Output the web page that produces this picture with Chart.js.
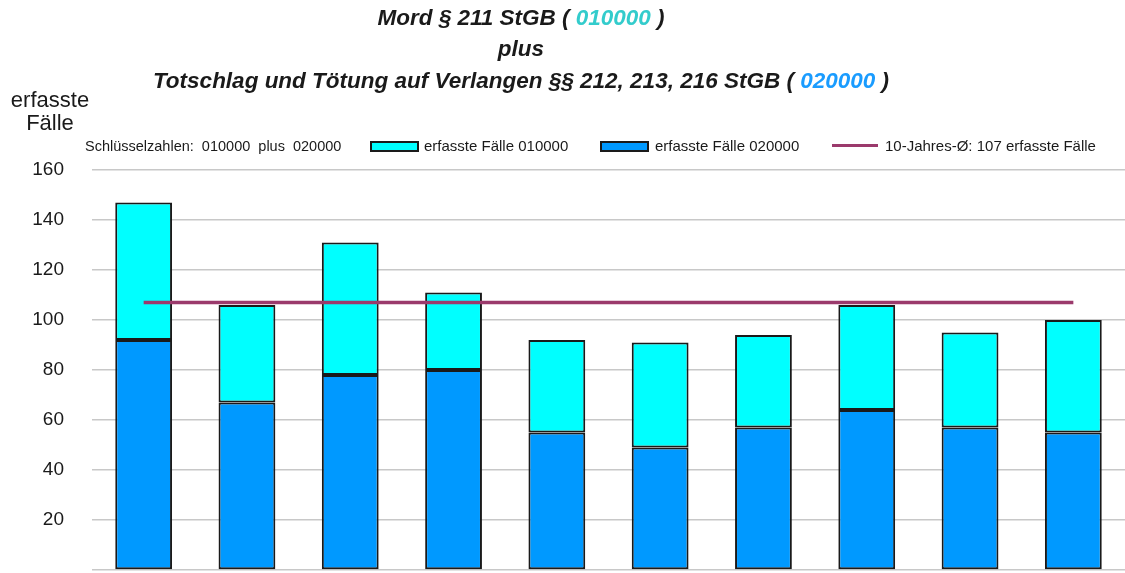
<!DOCTYPE html>
<html lang="de">
<head>
<meta charset="utf-8">
<script src="https://cdn.jsdelivr.net/npm/chart.js@4.4.1/dist/chart.umd.min.js"></script>
<style>
  html, body { margin: 0; padding: 0; background: #fff; }
  body { width: 1125px; height: 573px; position: relative; overflow: hidden; font-family: "Liberation Sans", Arial, sans-serif; color: #1a1a1a; }
  #chart { position: absolute; left: 0; top: 0; }
  .title { position: absolute; left: 0; width: 1042px; text-align: center; font-weight: bold; font-style: italic; font-size: 22.5px; line-height: 26px; }
  .c1 { color: #33cccc; }
  .c2 { color: #1a9cff; }
  .ylabel { position: absolute; left: 0; width: 100px; top: 88px; text-align: center; font-size: 22px; line-height: 23px; }
  .leg { position: absolute; top: 137px; font-size: 15px; line-height: 18px; white-space: nowrap; }
  .box { position: absolute; top: 141px; width: 45px; height: 7px; border: 2px solid #1a1a1a; }
  .lline { position: absolute; top: 144px; width: 46px; height: 3px; background: #9b3a6c; }
</style>
</head>
<body>
<canvas id="chart" width="1125" height="573"></canvas>

<div class="title" style="top:5px">Mord § 211 StGB ( <span class="c1">010000</span> )</div>
<div class="title" style="top:36px">plus</div>
<div class="title" style="top:68px">Totschlag und Tötung auf Verlangen §§ 212, 213, 216 StGB ( <span class="c2">020000</span> )</div>

<div class="ylabel">erfasste<br>Fälle</div>

<div class="leg" style="left:85px; font-size:14.5px">Schlüsselzahlen:&nbsp; 010000&nbsp; plus&nbsp; 020000</div>
<div class="box" style="left:370px; background:#00ffff"></div>
<div class="leg" style="left:424px">erfasste Fälle 010000</div>
<div class="box" style="left:600px; background:#0099ff"></div>
<div class="leg" style="left:655px">erfasste Fälle 020000</div>
<div class="lline" style="left:832px"></div>
<div class="leg" style="left:885px">10-Jahres-Ø: 107 erfasste Fälle</div>

<script>
// ===== Data =====
const years = ['2014', '2015', '2016', '2017', '2018', '2019', '2020', '2021', '2022', '2023'];
const cases020000 = [92, 67, 78, 80, 55, 49, 57, 64, 57, 55];
const cases010000 = [55, 39, 53, 31, 37, 42, 37, 42, 38, 45];
const tenYearAvg = [107, 107, 107, 107, 107, 107, 107, 107, 107, 107];
const yTicks = [0, 20, 40, 60, 80, 100, 120, 140, 160];

// ===== Chart =====
const ctx = document.getElementById('chart').getContext('2d');
const chart = new Chart(ctx, {
  type: 'bar',
  data: {
    labels: years,
    datasets: [
      {
        label: 'erfasste Fälle 020000',
        data: cases020000,
        backgroundColor: '#0099ff',
        borderColor: '#1a1a1a',
        borderWidth: 2,
        borderSkipped: false,
        stack: 'faelle',
        order: 1
      },
      {
        label: 'erfasste Fälle 010000',
        data: cases010000,
        backgroundColor: '#00ffff',
        borderColor: '#1a1a1a',
        borderWidth: 2,
        borderSkipped: false,
        stack: 'faelle',
        order: 1
      },
      {
        type: 'line',
        label: '10-Jahres-Ø: 107 erfasste Fälle',
        data: tenYearAvg,
        borderColor: '#9b3a6c',
        borderWidth: 3.5,
        pointRadius: 0,
        fill: false,
        order: 0
      }
    ]
  },
  options: {
    responsive: false,
    animation: false,
    layout: { padding: { top: 170, bottom: 3, left: 0, right: 0 } },
    datasets: {
      bar: { categoryPercentage: 1, barPercentage: 0.55 }
    },
    plugins: {
      legend: { display: false },
      tooltip: { enabled: false }
    },
    scales: {
      x: {
        display: false,
        stacked: true
      },
      y: {
        stacked: true,
        min: 0,
        max: 160,
        // fixed axis width, no extra label padding above/below the plot
        afterFit: (scale) => {
          scale.width = 92;
          scale.paddingTop = 0;
          scale.paddingBottom = 0;
        },
        afterBuildTicks: (scale) => { scale.ticks = yTicks.map(v => ({ value: v })); },
        border: { display: false },
        grid: { color: '#c8c8c8', lineWidth: 1.5, drawTicks: false },
        ticks: {
          padding: 28,
          color: '#1a1a1a',
          font: { family: '"Liberation Sans", Arial, sans-serif', size: 19 },
          callback: (val) => val === 0 ? '' : val
        }
      }
    }
  }
});
</script>
</body>
</html>
